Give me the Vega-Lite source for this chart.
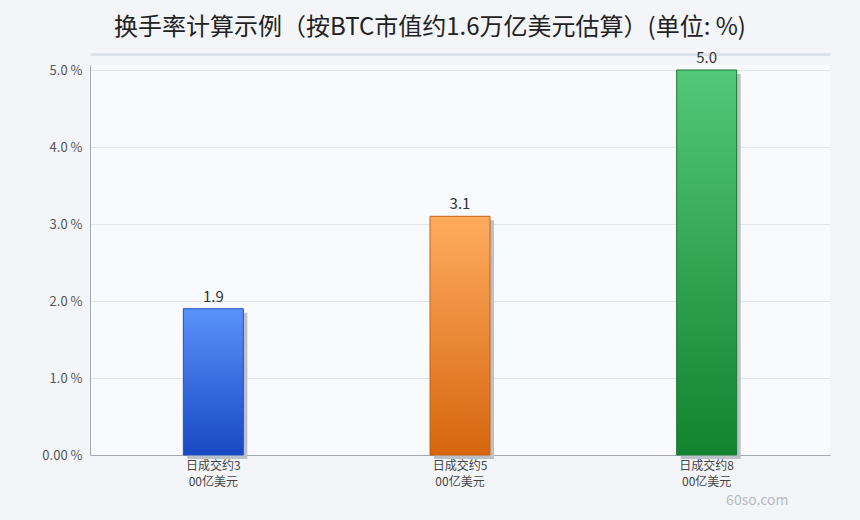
{
  "$schema": "https://vega.github.io/schema/vega-lite/v6.json",
  "autosize": "none",
  "width": 740,
  "height": 390,
  "padding": {"left": 90, "top": 65, "right": 30, "bottom": 65},
  "background": "#f3f5f9",
  "config": {
    "font": "Noto Sans CJK SC",
    "view": {"stroke": null, "fill": "#f9fafd"}
  },
  "title": {
    "text": "换手率计算示例（按BTC市值约1.6万亿美元估算）(单位: %)",
    "fontSize": 24,
    "fontWeight": "normal",
    "color": "#222222",
    "anchor": "middle",
    "frame": "group",
    "dx": -30,
    "offset": 11
  },
  "data": {
    "values": [
      {"label": "日成交约300亿美元", "rate": 1.9, "series": "a"},
      {"label": "日成交约500亿美元", "rate": 3.1, "series": "b"},
      {"label": "日成交约800亿美元", "rate": 5.0, "series": "c"}
    ]
  },
  "encoding": {
    "x": {"field": "label", "type": "nominal", "sort": null},
    "y": {
      "field": "rate",
      "type": "quantitative",
      "scale": {"domain": [0, 5.065], "nice": false, "zero": true},
      "axis": {
        "title": null,
        "values": [0, 1, 2, 3, 4, 5],
        "labelExpr": "datum.value == 0 ? '0.00 %' : format(datum.value, '.1f') + ' %'",
        "labelFontSize": 13,
        "labelColor": "#555555",
        "labelPadding": 8,
        "ticks": false,
        "grid": true,
        "gridColor": "#e0e4eb",
        "domainColor": "#a3a9b3"
      }
    }
  },
  "layer": [
    {
      "encoding": {
        "x": {
          "field": "label",
          "type": "nominal",
          "sort": null,
          "axis": {
            "orient": "bottom",
            "labelAngle": 0,
            "labelExpr": "[substring(datum.label, 0, 5), substring(datum.label, 5)]",
            "labelFontSize": 12,
            "labelColor": "#444444",
            "labelLineHeight": 16,
            "labelPadding": 5,
            "ticks": false,
            "domainColor": "#a3a9b3",
            "title": "60so.com",
            "titleAnchor": "end",
            "titleColor": "#b5bac2",
            "titleFontSize": 14,
            "titleFontWeight": "normal",
            "titlePadding": 6,
            "titleX": 698
          }
        }
      },
      "layer": [
        {
          "mark": {"type": "bar", "size": 60, "color": "#bcc1c9", "xOffset": 4, "yOffset": 4, "y2Offset": 0}
        },
        {
          "transform": [{"filter": "datum.series == 'a'"}],
          "mark": {
            "type": "bar", "size": 60, "stroke": "#2152c2", "strokeWidth": 1,
            "color": {"gradient": "linear", "x1": 0, "y1": 0, "x2": 0, "y2": 1,
              "stops": [{"offset": 0, "color": "#5a92fb"}, {"offset": 1, "color": "#1848c2"}]}
          }
        },
        {
          "transform": [{"filter": "datum.series == 'b'"}],
          "mark": {
            "type": "bar", "size": 60, "stroke": "#c8620f", "strokeWidth": 1,
            "color": {"gradient": "linear", "x1": 0, "y1": 0, "x2": 0, "y2": 1,
              "stops": [{"offset": 0, "color": "#ffac5f"}, {"offset": 1, "color": "#d6660e"}]}
          }
        },
        {
          "transform": [{"filter": "datum.series == 'c'"}],
          "mark": {
            "type": "bar", "size": 60, "stroke": "#1a7a34", "strokeWidth": 1,
            "color": {"gradient": "linear", "x1": 0, "y1": 0, "x2": 0, "y2": 1,
              "stops": [{"offset": 0, "color": "#52c878"}, {"offset": 1, "color": "#12832f"}]}
          }
        }
      ]
    },
    {
      "mark": {"type": "text", "dy": -12, "fontSize": 15, "color": "#333333"},
      "encoding": {
        "x": {
          "field": "label",
          "type": "nominal",
          "sort": null,
          "axis": {
            "orient": "top",
            "labels": false,
            "ticks": false,
            "title": null,
            "domainColor": "#dde1e8",
            "domainWidth": 3,
            "offset": 11
          }
        },
        "text": {"field": "rate", "type": "quantitative", "format": ".1f"}
      }
    }
  ],
  "resolve": {"axis": {"x": "independent"}}
}
